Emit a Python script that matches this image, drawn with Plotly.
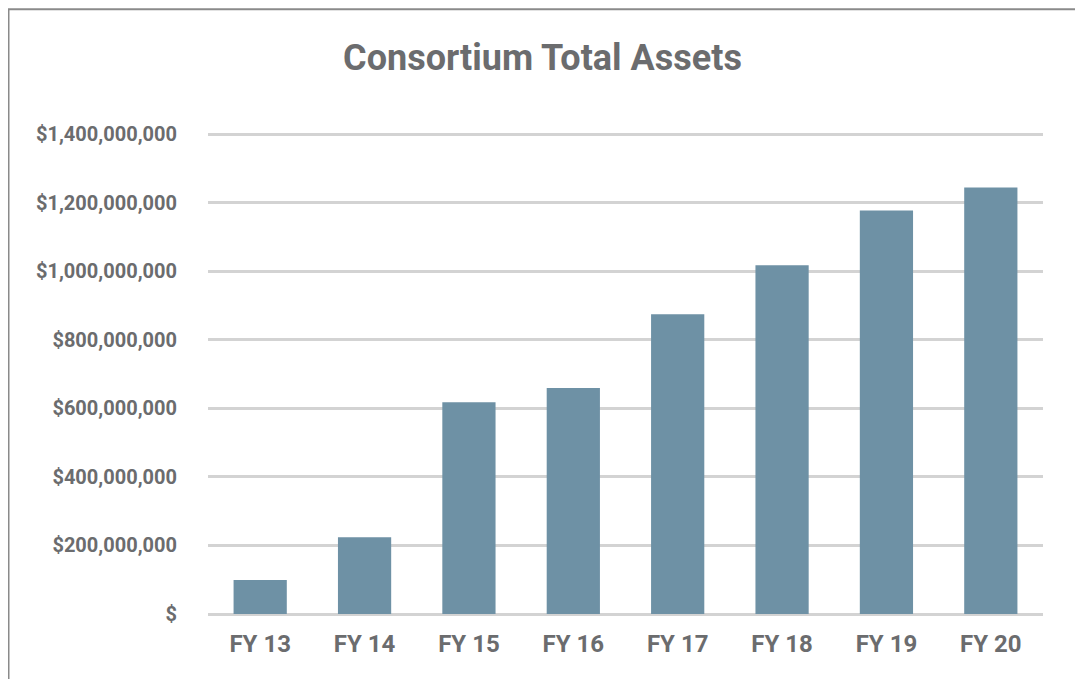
import plotly.graph_objects as go

categories = ["FY 13", "FY 14", "FY 15", "FY 16", "FY 17", "FY 18", "FY 19", "FY 20"]
total_assets = [99e6, 224e6, 618e6, 659e6, 874e6, 1017e6, 1177e6, 1244e6]
tick_values = [0, 200e6, 400e6, 600e6, 800e6, 1000e6, 1200e6, 1400e6]
tick_labels = ["$", "$200,000,000", "$400,000,000", "$600,000,000", "$800,000,000",
               "$1,000,000,000", "$1,200,000,000", "$1,400,000,000"]

BAR = "#6E91A5"
TXT = "#6b6c6e"
GRID = "#d3d3d3"
FONT = "Roboto"

fig = go.Figure(go.Bar(x=categories, y=total_assets, marker=dict(color=BAR, line=dict(width=0)),
                       hoverinfo="skip"))

# page body has an 8px margin; figure sized so it ends at the window edge
W, H = 1075, 671
L, R, T, B = 200, 40, 124.5, 65
pw = W - L - R
ph = H - T - B
zero_px = H - B

fig.update_layout(
    width=W, height=H,
    margin=dict(l=L, r=R, t=T, b=B, pad=0),
    paper_bgcolor="white", plot_bgcolor="white",
    showlegend=False,
    bargap=0.49,
    title=dict(text="<b>Consortium Total Assets</b>", x=(542.5 - 8) / W, xanchor="center",
               y=1 - 49 / H, yanchor="middle",
               font=dict(family=FONT, size=36, color=TXT)),
    xaxis=dict(showgrid=False, showline=False, ticks="", zeroline=False,
               tickfont=dict(family=FONT, size=24, color=TXT),
               ticklabelstandoff=13),
    yaxis=dict(range=[0, 1.403e9], tickvals=tick_values, ticktext=[f"<b>{t}</b>" for t in tick_labels],
               showgrid=True, gridcolor=GRID, gridwidth=2.5, zeroline=True, zerolinecolor=GRID,
               zerolinewidth=2.5, showline=False, ticks="",
               tickfont=dict(family=FONT, size=20, color=TXT),
               ticklabelstandoff=30),
    shapes=[dict(type="rect", xref="paper", yref="paper",
                 x0=(0.5 - L) / pw, x1=(1068.5 - L) / pw,
                 y0=(zero_px - 700) / ph, y1=(zero_px - 0.5) / ph,
                 line=dict(color="#8a8a8a", width=2), fillcolor="rgba(0,0,0,0)", layer="below")],
)
fig.update_xaxes(ticktext=[f"<b>{c}</b>" for c in categories], tickvals=categories)

fig.write_html("out.html")
